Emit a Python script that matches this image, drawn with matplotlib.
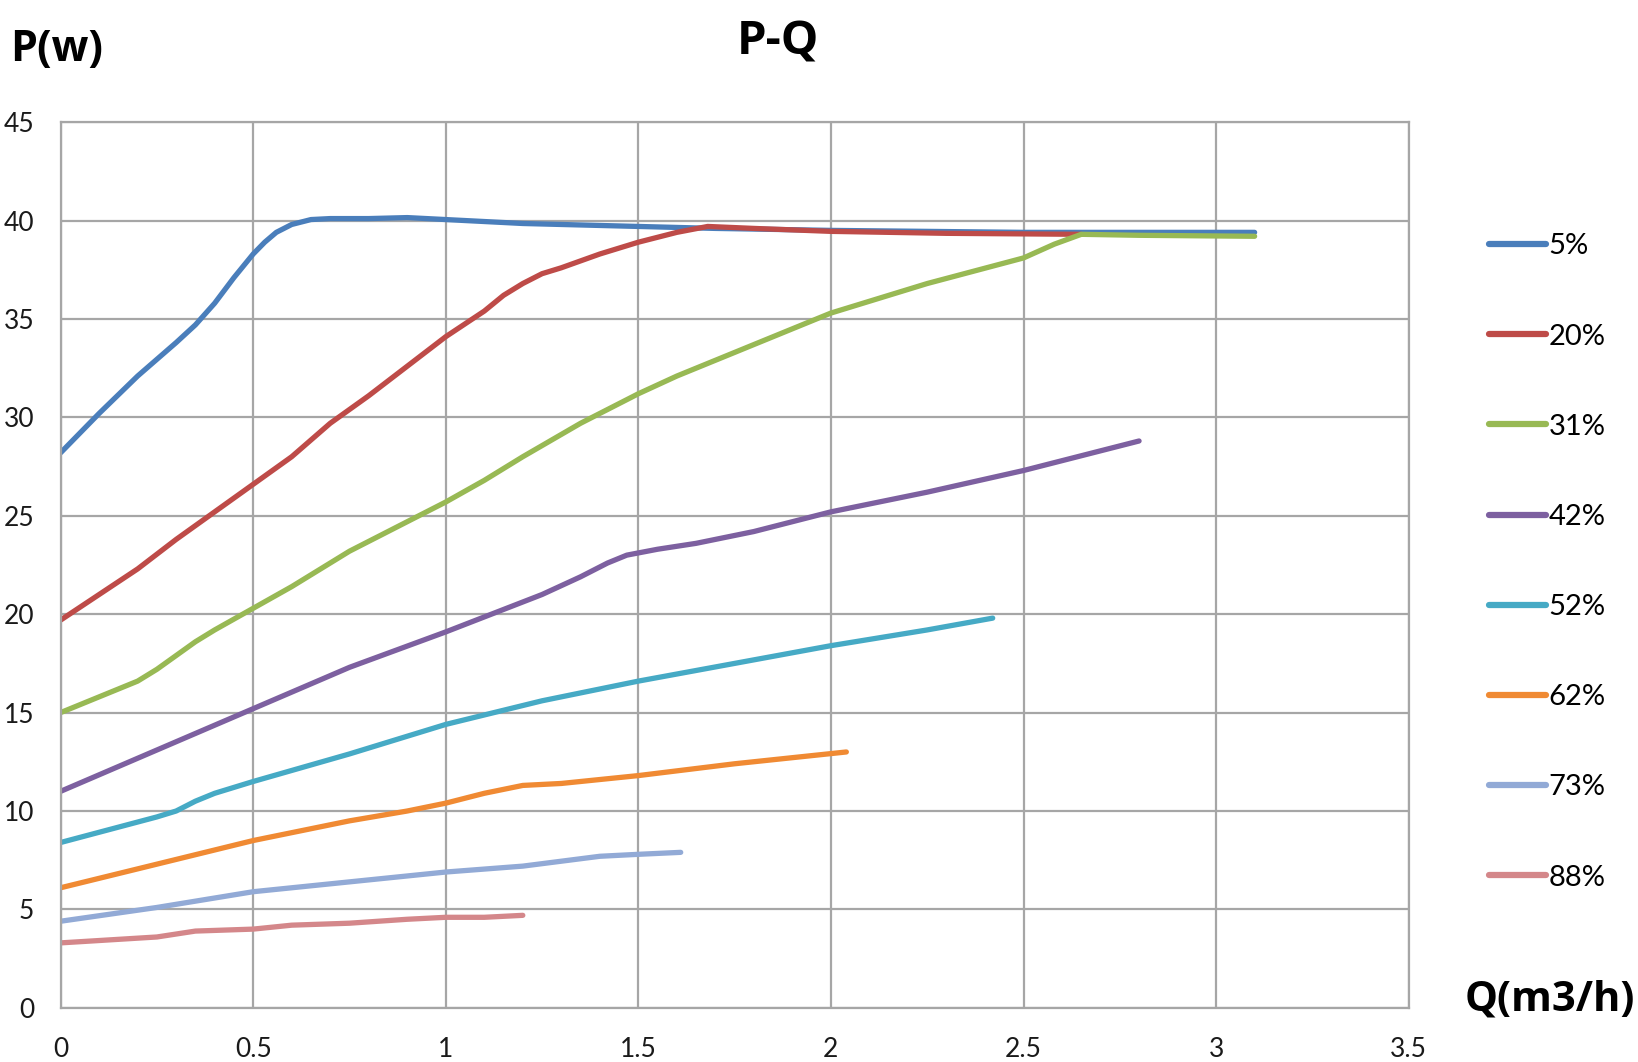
import matplotlib
matplotlib.use("Agg")
import matplotlib.pyplot as plt

# P-Q curves
q_5 = [0.0, 0.1, 0.2, 0.3, 0.35, 0.4, 0.45, 0.5, 0.53, 0.56, 0.6, 0.65, 0.7, 0.8, 0.9, 1.0, 1.1, 1.2, 1.5, 1.7, 2.0, 2.5, 3.1]
p_5 = [28.2, 30.2, 32.1, 33.8, 34.7, 35.8, 37.1, 38.3, 38.9, 39.4, 39.8, 40.05, 40.1, 40.1, 40.15, 40.05, 39.95, 39.85, 39.7, 39.6, 39.5, 39.4, 39.4]

q_20 = [0.0, 0.1, 0.2, 0.3, 0.4, 0.5, 0.6, 0.7, 0.8, 0.9, 1.0, 1.1, 1.15, 1.2, 1.25, 1.3, 1.4, 1.5, 1.6, 1.68, 1.8, 2.0, 2.3, 2.65]
p_20 = [19.7, 21.0, 22.3, 23.8, 25.2, 26.6, 28.0, 29.7, 31.1, 32.6, 34.1, 35.4, 36.2, 36.8, 37.3, 37.6, 38.3, 38.9, 39.4, 39.7, 39.6, 39.45, 39.35, 39.3]

q_31 = [0.0, 0.1, 0.2, 0.25, 0.3, 0.35, 0.4, 0.5, 0.6, 0.75, 0.9, 1.0, 1.1, 1.2, 1.35, 1.5, 1.6, 1.75, 2.0, 2.25, 2.5, 2.58, 2.65, 2.8, 3.1]
p_31 = [15.0, 15.8, 16.6, 17.2, 17.9, 18.6, 19.2, 20.3, 21.4, 23.2, 24.7, 25.7, 26.8, 28.0, 29.7, 31.2, 32.1, 33.3, 35.3, 36.8, 38.1, 38.8, 39.3, 39.25, 39.2]

q_42 = [0.0, 0.25, 0.5, 0.75, 1.0, 1.25, 1.35, 1.42, 1.47, 1.55, 1.65, 1.8, 2.0, 2.25, 2.5, 2.8]
p_42 = [11.0, 13.1, 15.2, 17.3, 19.1, 21.0, 21.9, 22.6, 23.0, 23.3, 23.6, 24.2, 25.2, 26.2, 27.3, 28.8]

q_52 = [0.0, 0.25, 0.3, 0.35, 0.4, 0.5, 0.75, 1.0, 1.25, 1.5, 1.75, 2.0, 2.25, 2.42]
p_52 = [8.4, 9.7, 10.0, 10.5, 10.9, 11.5, 12.9, 14.4, 15.6, 16.6, 17.5, 18.4, 19.2, 19.8]

q_62 = [0.0, 0.25, 0.5, 0.75, 0.9, 1.0, 1.1, 1.2, 1.3, 1.5, 1.75, 2.04]
p_62 = [6.1, 7.3, 8.5, 9.5, 10.0, 10.4, 10.9, 11.3, 11.4, 11.8, 12.4, 13.0]

q_73 = [0.0, 0.25, 0.5, 0.6, 0.75, 1.0, 1.2, 1.3, 1.4, 1.5, 1.61]
p_73 = [4.4, 5.1, 5.9, 6.1, 6.4, 6.9, 7.2, 7.45, 7.7, 7.8, 7.9]

q_88 = [0.0, 0.25, 0.35, 0.5, 0.6, 0.75, 0.9, 1.0, 1.1, 1.2]
p_88 = [3.3, 3.6, 3.9, 4.0, 4.2, 4.3, 4.5, 4.6, 4.6, 4.7]

labels = ["5%", "20%", "31%", "42%", "52%", "62%", "73%", "88%"]
colors = ["#4A7EBB", "#BE4B48", "#98B954", "#7D60A0", "#46AAC5", "#F08A33", "#92AAD6", "#D4878A"]
series = [(q_5, p_5), (q_20, p_20), (q_31, p_31), (q_42, p_42),
          (q_52, p_52), (q_62, p_62), (q_73, p_73), (q_88, p_88)]

x_ticks = [0, 0.5, 1, 1.5, 2, 2.5, 3, 3.5]
x_tick_labels = ["0", "0.5", "1", "1.5", "2", "2.5", "3", "3.5"]
y_ticks = [0, 5, 10, 15, 20, 25, 30, 35, 40, 45]

plt.rcParams["font.family"] = ["Liberation Sans Narrow", "Lato", "DejaVu Sans"]

fig = plt.figure(figsize=(16.38, 10.62), dpi=100)
ax = fig.add_axes([0.037, 0.051, 0.823, 0.834])

grid_col = "#A6A6A6"
for (q, p), lab, c in zip(series, labels, colors):
    ax.plot(q, p, color=c, lw=3.8, label=lab, solid_capstyle="round", solid_joinstyle="round")

ax.set_xlim(0, 3.5)
ax.set_ylim(0, 45)
ax.set_xticks(x_ticks)
ax.set_xticklabels(x_tick_labels)
ax.set_yticks(y_ticks)
ax.grid(True, color=grid_col, lw=1.6)
ax.set_axisbelow(True)
for s in ax.spines.values():
    s.set_color(grid_col)
    s.set_linewidth(1.6)
ax.tick_params(length=0, labelsize=19, colors="#1a1a1a")
ax.tick_params(axis="x", pad=21)
ax.tick_params(axis="y", pad=19)

bold = ["Open Sans", "Lato", "DejaVu Sans"]
fig.text(0.475, 0.96, "P-Q", fontsize=34, fontweight="bold", family=bold, ha="center", va="center")
fig.text(0.006, 0.953, "P(w)", fontsize=31, fontweight="bold", family=bold, ha="left", va="center")
fig.text(0.998, 0.058, "Q(m3/h)", fontsize=30, fontweight="bold", family=bold, ha="right", va="center")

leg = fig.legend(loc="upper left", bbox_to_anchor=(0.893, 0.805), frameon=False,
                 fontsize=21, handlelength=1.95, handletextpad=0.1, labelspacing=2.2)
for line in leg.get_lines():
    line.set_linewidth(4.5)

fig.savefig("out.png", dpi=100)
